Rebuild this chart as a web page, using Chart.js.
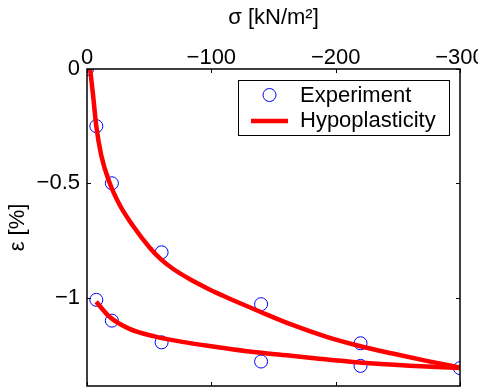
<!DOCTYPE html>
<html>
<head>
<meta charset="utf-8">
<title>Oedometer test</title>
<script src="https://cdn.jsdelivr.net/npm/chart.js@4.4.1/dist/chart.umd.min.js"></script>
<style>
  html, body { margin: 0; padding: 0; background: #fff; }
  #wrap { width: 478px; height: 392px; }
</style>
</head>
<body>
<div id="wrap"><canvas id="oedoChart" width="478" height="392"></canvas></div>
<script>
// measured points (loading, then unloading)
const sigmaLoad = [0, -7.5, -20, -60, -140, -220, -300];
const epsLoad = [0, -0.25, -0.5, -0.802, -1.029, -1.2, -1.309];
const sigmaUnload = [-220, -140, -60, -20, -7.5];
const epsUnload = [-1.299, -1.28, -1.196, -1.101, -1.01];

// hypoplastic model, loading branch
const sigmaModelLoad = [-2.5, -4.7, -7.4, -11.4, -18.1, -26.1, -36.8, -50.3, -59.1, -68.8,
  -82.5, -96.1, -109, -122.7, -138.8, -165.3, -192.7, -219.2, -245.8, -273.1, -299.6];
const epsModelLoad = [0, -0.105, -0.247, -0.376, -0.497, -0.593, -0.685, -0.781, -0.831, -0.873,
  -0.919, -0.958, -0.991, -1.024, -1.061, -1.12, -1.172, -1.212, -1.245, -1.277, -1.306];

// hypoplastic model, unloading branch
const sigmaModelUnload = [-7.4, -18.1, -34.2, -54.3, -76.8, -104.2, -130.7, -157.3, -179, -219.2, -259.4, -299.6];
const epsModelUnload = [-1.018, -1.084, -1.137, -1.17, -1.194, -1.216, -1.236, -1.251, -1.263, -1.284, -1.298, -1.308];

const sigmaTicks = [0, -100, -200, -300];
const epsTicks = [0, -0.5, -1];

const seriesNames = ["Experiment", "Hypoplasticity"];

const FONT = "'Liberation Sans', Arial, Helvetica, sans-serif";
Chart.defaults.font.family = FONT;
Chart.defaults.color = "#000";

const toXY = (xs, ys) => xs.map((x, i) => ({ x: x, y: ys[i] }));
const fmt = (v) => (v === 0 ? "0" : "\u2212" + Math.abs(v));

// fixed axes box: drop the padding chart.js adds for overhanging labels
const fixBox = (size) => (s) => {
  if (s.isHorizontal()) s.height = size; else s.width = size;
  s.paddingLeft = s.paddingRight = s.paddingTop = s.paddingBottom = 0;
};

// box round the axes with inward ticks, like the original figure
const frameBox = {
  id: "frameBox",
  afterDatasetsDraw(chart) {
    const { ctx, chartArea: a, scales } = chart;
    ctx.save();
    ctx.strokeStyle = "#000";
    ctx.lineWidth = 1.5;
    ctx.strokeRect(a.left, a.top, a.right - a.left, a.bottom - a.top);
    ctx.lineWidth = 1;
    ctx.beginPath();
    sigmaTicks.forEach((v) => {
      const px = Math.round(scales.x.getPixelForValue(v)) + 0.5;
      ctx.moveTo(px, a.top); ctx.lineTo(px, a.top + 4);
      ctx.moveTo(px, a.bottom); ctx.lineTo(px, a.bottom - 4);
    });
    epsTicks.forEach((v) => {
      const py = Math.round(scales.y.getPixelForValue(v)) + 0.5;
      ctx.moveTo(a.left, py); ctx.lineTo(a.left + 4, py);
      ctx.moveTo(a.right, py); ctx.lineTo(a.right - 4, py);
    });
    ctx.stroke();
    ctx.restore();
  },
  afterDraw(chart) {
    // legend box in the upper right of the axes
    const ctx = chart.ctx;
    ctx.save();
    ctx.fillStyle = "#fff";
    ctx.fillRect(238, 80, 211, 55);
    ctx.strokeStyle = "#000";
    ctx.lineWidth = 1;
    ctx.strokeRect(238.5, 80.5, 211, 55);
    ctx.strokeStyle = "#0000ff";
    ctx.beginPath();
    ctx.arc(269.5, 95, 6.5, 0, Math.PI * 2);
    ctx.stroke();
    ctx.strokeStyle = "#ff0000";
    ctx.lineWidth = 4.5;
    ctx.beginPath();
    ctx.moveTo(251, 121);
    ctx.lineTo(288, 121);
    ctx.stroke();
    ctx.fillStyle = "#000";
    ctx.font = "22px " + FONT;
    ctx.textBaseline = "middle";
    ctx.fillText(seriesNames[0], 300, 96);
    ctx.fillText(seriesNames[1], 300, 121);
    ctx.restore();
  },
};

const lineStyle = {
  showLine: true,
  pointRadius: 0,
  borderColor: "#ff0000",
  backgroundColor: "#ff0000",
  borderWidth: 4.5,
  cubicInterpolationMode: "monotone",
  order: 0,
};

new Chart(document.getElementById("oedoChart"), {
  type: "scatter",
  data: {
    datasets: [
      {
        label: seriesNames[0],
        data: toXY(sigmaLoad, epsLoad).concat(toXY(sigmaUnload, epsUnload)),
        pointStyle: "circle",
        pointRadius: 6.5,
        borderColor: "#0000ff",
        backgroundColor: "rgba(0,0,0,0)",
        borderWidth: 1,
        showLine: false,
        order: 1,
      },
      Object.assign({ label: seriesNames[1], data: toXY(sigmaModelLoad, epsModelLoad) }, lineStyle),
      Object.assign({ label: seriesNames[1] + " unloading", data: toXY(sigmaModelUnload, epsModelUnload) }, lineStyle),
    ],
  },
  plugins: [frameBox],
  options: {
    responsive: false,
    animation: false,
    devicePixelRatio: 1,
    layout: { padding: { left: 0, top: 0, right: 18, bottom: 6 }, autoPadding: false },
    plugins: {
      legend: { display: false },
      tooltip: { enabled: false },
    },
    scales: {
      x: {
        type: "linear",
        position: "top",
        min: -300,
        max: 0,
        reverse: true,
        grid: { display: false, drawTicks: false },
        border: { display: false },
        afterBuildTicks: (s) => { s.ticks = sigmaTicks.map((v) => ({ value: v })); },
        afterFit: fixBox(69),
        ticks: { font: { size: 22 }, padding: -2, maxRotation: 0, callback: fmt },
        title: { display: true, text: "\u03c3 [kN/m\u00b2]", font: { size: 22 }, padding: { top: 5, bottom: 0 } },
      },
      y: {
        type: "linear",
        min: -1.387,
        max: 0,
        grid: { display: false, drawTicks: false },
        border: { display: false },
        afterBuildTicks: (s) => { s.ticks = epsTicks.map((v) => ({ value: v })); },
        afterFit: fixBox(87),
        ticks: { font: { size: 22 }, padding: 7, callback: fmt },
        title: { display: true, text: "\u03b5 [%]", font: { size: 22 }, padding: { top: 5, bottom: 0 } },
      },
    },
  },
});
</script>
</body>
</html>
